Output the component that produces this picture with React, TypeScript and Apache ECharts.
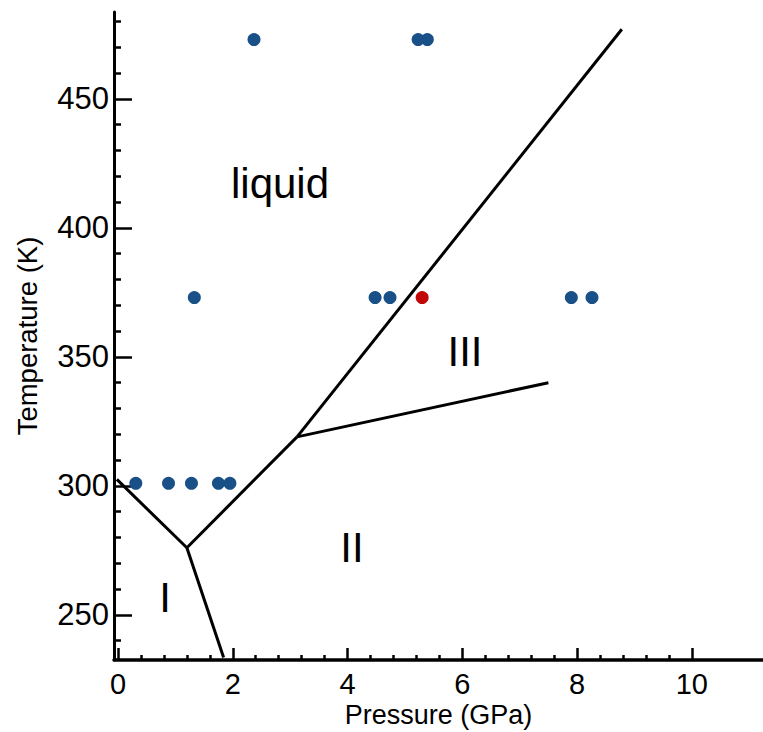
import React, { useEffect, useRef } from 'react';
import * as echarts from 'echarts';

// ---- Data ----
const xMajorTicks = [0, 2, 4, 6, 8, 10];
const xMinorTicks = [0.4, 0.8, 1.2, 1.6, 2.4, 2.8, 3.2, 3.6, 4.4, 4.8, 5.2, 5.6, 6.4, 6.8, 7.2, 7.6, 8.4, 8.8, 9.2, 9.6];
const yMajorTicks = [250, 300, 350, 400, 450];
const yMinorTicks = [240, 260, 270, 280, 290, 310, 320, 330, 340, 360, 370, 380, 390, 410, 420, 430, 440, 460, 470, 480];

// measured points (pressure GPa, temperature K)
const pressuresAt301 = [0.31, 0.88, 1.28, 1.75, 1.95];
const pressuresAt373 = [1.33, 4.48, 4.74, 7.9, 8.26];
const pressuresAt473 = [2.37, 5.23, 5.39];
const highlightedPoint = [5.3, 373];

// phase boundaries
const boundaryLiquidI = [[-0.02, 302.5], [1.2, 276]];
const boundaryI_II = [[1.2, 276], [1.84, 233.5]];
const boundaryLiquidII = [[1.2, 276], [3.12, 319]];
const boundaryLiquidIII = [[3.12, 319], [8.78, 477]];
const boundaryII_III = [[3.12, 319], [7.5, 340]];

const FONT = "'Liberation Sans', Arial, Helvetica, sans-serif";

export default function App() {
  const ref = useRef<HTMLDivElement>(null);

  useEffect(() => {
    document.body.style.margin = '0';
    if (!ref.current) return;
    const chart = echarts.init(ref.current, undefined, { renderer: 'svg' });

    const bluePts = [
      ...pressuresAt301.map((p) => [p, 301]),
      ...pressuresAt373.map((p) => [p, 373]),
      ...pressuresAt473.map((p) => [p, 473]),
    ];

    const lineSeries = (data: number[][]) => ({
      type: 'line',
      data,
      xAxisIndex: 0,
      yAxisIndex: 0,
      showSymbol: false,
      symbol: 'none',
      lineStyle: { color: '#000', width: 3 },
      z: 3,
    });

    const xMin = -0.07;
    const xMax = 11.24;
    const yMin = 232.5;
    const yMax = 483.7;

    const option: any = {
      animation: false,
      backgroundColor: '#fff',
      grid: { left: 114, right: 0, top: 12, bottom: 72, containLabel: false, outerBoundsMode: 'none' },
      xAxis: [
        {
          type: 'value',
          position: 'bottom',
          min: xMin,
          max: xMax,
          name: 'Pressure (GPa)',
          nameLocation: 'middle',
          nameGap: 41,
          nameMoveOverlap: false,
          nameTextStyle: { fontFamily: FONT, fontSize: 27, color: '#000' },
          axisLine: { show: true, onZero: false, lineStyle: { color: '#000', width: 3.5 } },
          axisTick: { show: true, inside: true, length: 12, customValues: xMajorTicks, lineStyle: { color: '#000', width: 2.5 } },
          axisLabel: { show: true, customValues: xMajorTicks, margin: 9, fontFamily: FONT, fontSize: 29, color: '#000' },
          splitLine: { show: false },
        },
        {
          type: 'value',
          position: 'bottom',
          min: xMin,
          max: xMax,
          axisLine: { show: false, onZero: false },
          axisTick: { show: true, inside: true, length: 5, customValues: xMinorTicks, lineStyle: { color: '#000', width: 2.5 } },
          axisLabel: { show: false },
          splitLine: { show: false },
        },
      ],
      yAxis: [
        {
          type: 'value',
          position: 'left',
          min: yMin,
          max: yMax,
          name: 'Temperature (K)',
          nameLocation: 'middle',
          nameRotate: 90,
          nameGap: 73,
          nameMoveOverlap: false,
          nameTextStyle: { fontFamily: FONT, fontSize: 27.5, color: '#000' },
          axisLine: { show: true, onZero: false, lineStyle: { color: '#000', width: 3 } },
          axisTick: { show: true, inside: true, length: 18, customValues: yMajorTicks, lineStyle: { color: '#000', width: 2.5 } },
          axisLabel: { show: true, customValues: yMajorTicks, margin: 5, fontFamily: FONT, fontSize: 31, color: '#000' },
          splitLine: { show: false },
        },
        {
          type: 'value',
          position: 'left',
          min: yMin,
          max: yMax,
          axisLine: { show: false, onZero: false },
          axisTick: { show: true, inside: true, length: 7, customValues: yMinorTicks, lineStyle: { color: '#000', width: 2.5 } },
          axisLabel: { show: false },
          splitLine: { show: false },
        },
      ],
      series: [
        lineSeries(boundaryLiquidI),
        lineSeries(boundaryI_II),
        lineSeries(boundaryLiquidII),
        lineSeries(boundaryLiquidIII),
        lineSeries(boundaryII_III),
        {
          type: 'scatter',
          data: bluePts,
          symbolSize: 13,
          itemStyle: { color: '#1a5088', opacity: 1 },
          z: 4,
        },
        {
          type: 'scatter',
          data: [highlightedPoint],
          symbolSize: 13,
          itemStyle: { color: '#c20606', opacity: 1 },
          z: 4,
        },
      ],
      graphic: [
        { type: 'text', x: 280, y: 183, style: { text: 'liquid', font: `42px ${FONT}`, fill: '#000', textAlign: 'center', textVerticalAlign: 'middle' } },
        { type: 'text', x: 465, y: 351, style: { text: 'III', font: `42px ${FONT}`, fill: '#000', textAlign: 'center', textVerticalAlign: 'middle' } },
        { type: 'text', x: 352, y: 547, style: { text: 'II', font: `42px ${FONT}`, fill: '#000', textAlign: 'center', textVerticalAlign: 'middle' } },
        { type: 'text', x: 165, y: 597, style: { text: 'I', font: `42px ${FONT}`, fill: '#000', textAlign: 'center', textVerticalAlign: 'middle' } },
      ],
    };

    chart.setOption(option);
    return () => chart.dispose();
  }, []);

  return <div ref={ref} style={{ position: 'absolute', left: 0, top: 0, width: 763, height: 732 }} />;
}
